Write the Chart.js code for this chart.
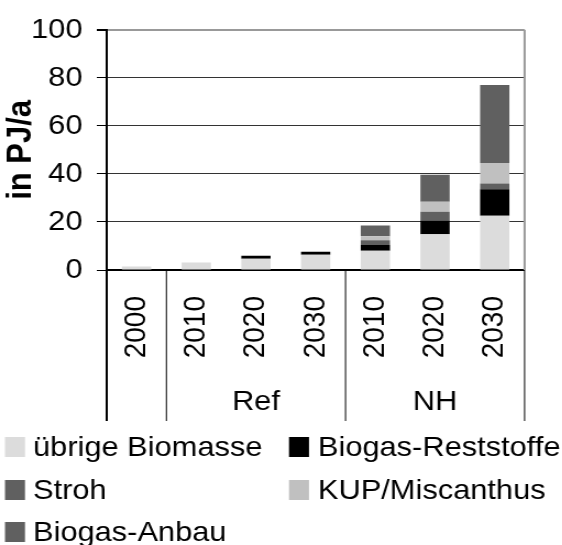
<!DOCTYPE html>
<html>
<head>
<meta charset="utf-8">
<script src="https://cdn.jsdelivr.net/npm/chart.js@4"></script>
<style>
  html, body { margin: 0; padding: 0; background: #fff; overflow: hidden; }
  #wrap { width: 511px; height: 545px; transform: scaleX(1.1); transform-origin: 0 0; }
</style>
</head>
<body>
<div id="wrap"><canvas id="bio" width="511" height="545"></canvas></div>
<script>
// Biomasse-Nutzung in PJ/a, Referenz- und NH-Szenario
const years = ["2000", "2010", "2020", "2030", "2010", "2020", "2030"];
const groups = ["", "Ref", "Ref", "Ref", "NH", "NH", "NH"];
const yTicks = [0, 20, 40, 60, 80, 100];

const uebrigeBiomasse = [1.5, 3.1, 4.7, 6.4, 8.0, 14.9, 22.6];
const biogasReststoffe = [0, 0, 1.2, 1.2, 2.4, 5.7, 11.0];
const stroh = [0, 0, 0, 0, 2.0, 3.7, 2.4];
const kupMiscanthus = [0, 0, 0, 0, 1.6, 4.1, 8.5];
const biogasAnbau = [0, 0, 0, 0, 4.5, 11.3, 32.5];

const FONT = "'Liberation Sans', Arial, sans-serif";

// group labels and separators under the category axis
const groupAxis = {
  id: "groupAxis",
  afterDraw(chart) {
    const { ctx, chartArea } = chart;
    const x = chart.scales.x;
    const bottom = 421;
    const mid = (a, b) => (x.getPixelForValue(a) + x.getPixelForValue(b)) / 2;

    const cuts = [{ px: chartArea.left, w: 2 }];
    for (let i = 1; i < groups.length; i++) {
      if (groups[i] !== groups[i - 1]) cuts.push({ px: mid(i - 1, i), w: 1 });
    }
    cuts.push({ px: chartArea.right, w: 1 });

    ctx.save();
    ctx.strokeStyle = "#000";
    cuts.forEach(c => {
      ctx.lineWidth = c.w;
      ctx.beginPath();
      ctx.moveTo(c.px, chartArea.bottom);
      ctx.lineTo(c.px, bottom);
      ctx.stroke();
    });

    // right frame of the plot area
    ctx.strokeStyle = "#999";
    ctx.lineWidth = 2;
    ctx.beginPath();
    ctx.moveTo(chartArea.right, chartArea.top);
    ctx.lineTo(chartArea.right, chartArea.bottom);
    ctx.stroke();

    ctx.fillStyle = "#000";
    ctx.font = "28px " + FONT;
    ctx.textAlign = "center";
    ctx.textBaseline = "middle";
    [...new Set(groups.filter(g => g))].forEach(g => {
      const idx = groups.map((v, i) => v === g ? i : -1).filter(i => i >= 0);
      const cx = mid(idx[0], idx[idx.length - 1]);
      ctx.fillText(g, cx, 402);
    });
    ctx.restore();
  }
};

// two-column legend below the chart
const gridLegend = {
  id: "gridLegend",
  afterDraw(chart) {
    const { ctx } = chart;
    const boxX = [4.5, 262.7];
    const textX = [30, 289];
    const rowY = [447, 490, 532];
    ctx.save();
    ctx.font = "28px " + FONT;
    ctx.textBaseline = "middle";
    ctx.textAlign = "left";
    chart.data.datasets.forEach((ds, i) => {
      const col = i % 2;
      const row = Math.floor(i / 2);
      ctx.fillStyle = ds.backgroundColor;
      ctx.fillRect(boxX[col], rowY[row] - 10, 18.2, 20);
      ctx.fillStyle = "#000";
      ctx.fillText(ds.label, textX[col], rowY[row] + 1);
    });
    ctx.restore();
  }
};

new Chart(document.getElementById("bio"), {
  type: "bar",
  data: {
    labels: years,
    datasets: [
      { label: "übrige Biomasse", data: uebrigeBiomasse, backgroundColor: "#dcdcdc" },
      { label: "Biogas-Reststoffe", data: biogasReststoffe, backgroundColor: "#000000" },
      { label: "Stroh", data: stroh, backgroundColor: "#606060" },
      { label: "KUP/Miscanthus", data: kupMiscanthus, backgroundColor: "#c0c0c0" },
      { label: "Biogas-Anbau", data: biogasAnbau, backgroundColor: "#606060" }
    ]
  },
  options: {
    responsive: false,
    animation: false,
    layout: { padding: { top: 24, right: 23, left: 0, bottom: 0 } },
    datasets: { bar: { barPercentage: 0.49, categoryPercentage: 1, borderWidth: 0 } },
    plugins: { legend: { display: false }, tooltip: { enabled: false } },
    scales: {
      x: {
        stacked: true,
        grid: { display: false, drawTicks: false, tickLength: 0 },
        border: { color: "#000", width: 2 },
        ticks: {
          color: "#000", font: { family: FONT, size: 28 },
          minRotation: 90, maxRotation: 90, padding: 26, autoSkip: false
        },
        afterFit(scale) { scale.height = 275; }
      },
      y: {
        stacked: true,
        min: 0, max: 100,
        afterBuildTicks(scale) { scale.ticks = yTicks.map(v => ({ value: v })); },
        grid: {
          color: c => c.tick && c.tick.value === 100 ? "#999" : "#333",
          lineWidth: c => c.tick && c.tick.value === 100 ? 2 : 1,
          tickColor: "#000",
          tickLength: 9
        },
        border: { color: "#000", width: 2 },
        ticks: { color: "#000", font: { family: FONT, size: 28 }, padding: 13 },
        title: {
          display: true, text: "in PJ/a", color: "#000",
          font: { family: FONT, size: 31, weight: "bold" },
          padding: { top: 1, bottom: 0 }
        },
        afterFit(scale) { scale.width = 97; }
      }
    }
  },
  plugins: [groupAxis, gridLegend]
});
</script>
</body>
</html>
